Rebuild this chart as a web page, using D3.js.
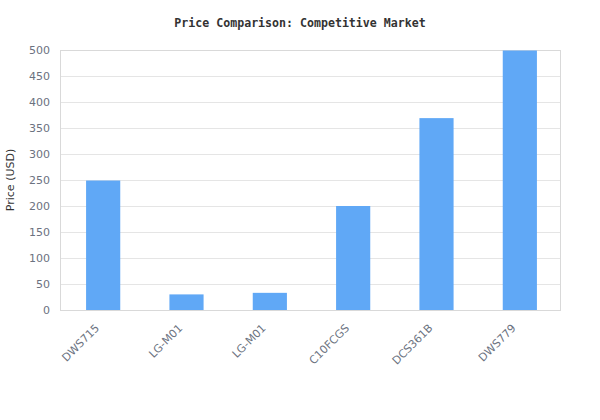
<!DOCTYPE html>
<html>
<head>
<meta charset="utf-8">
<script src="https://cdn.jsdelivr.net/npm/d3@7"></script>
<style>
  body { margin: 0; background: #fff; }
  svg { display: block; }
</style>
</head>
<body>
<svg width="600" height="420"></svg>
<script>
const categories = ['DWS715', 'LG-M01', 'LG-M01', 'C10FCGS', 'DCS361B', 'DWS779'];
const prices = [249, 30, 33, 200, 369, 499];
const yTicks = [0, 50, 100, 150, 200, 250, 300, 350, 400, 450, 500];

const data = categories.map((name, i) => ({ key: i, name, price: prices[i] }));

const svg = d3.select('svg');
const plotLeft = 60, plotRight = 560, plotTop = 50, plotBottom = 310;

const xScale = d3.scaleBand()
  .domain(data.map(d => d.key))
  .range([plotLeft + 1.5, plotRight + 1.5])
  .paddingInner(0.59)
  .paddingOuter(0.295);

const yScale = d3.scaleLinear()
  .domain([0, 500])
  .range([plotBottom, plotTop]);

// grid
svg.append('g')
  .selectAll('line')
  .data(yTicks)
  .enter()
  .append('line')
  .attr('x1', plotLeft)
  .attr('x2', plotRight)
  .attr('y1', d => Math.round(yScale(d)) + 0.5)
  .attr('y2', d => Math.round(yScale(d)) + 0.5)
  .attr('stroke', '#e5e5e5')
  .attr('stroke-width', 1);

// frame
svg.append('rect')
  .attr('x', plotLeft + 0.5)
  .attr('y', plotTop + 0.5)
  .attr('width', plotRight - plotLeft)
  .attr('height', plotBottom - plotTop)
  .attr('fill', 'none')
  .attr('stroke', '#d9d9d9');

// bars
svg.append('g')
  .selectAll('rect')
  .data(data)
  .enter()
  .append('rect')
  .attr('x', d => xScale(d.key))
  .attr('y', d => yScale(d.price))
  .attr('width', xScale.bandwidth())
  .attr('height', d => yScale(0) - yScale(d.price))
  .attr('fill', '#60a8f6');

// y axis labels
const yAxis = svg.append('g')
  .attr('transform', `translate(${plotLeft}, 0)`)
  .call(d3.axisLeft(yScale).tickValues(yTicks).tickSize(0).tickPadding(10));
yAxis.select('.domain').remove();
yAxis.selectAll('text')
  .attr('fill', '#6b7280')
  .style('font-family', 'DejaVu Sans, sans-serif')
  .style('font-size', '11px');

// x axis labels
const xAxis = svg.append('g')
  .attr('transform', `translate(0, ${plotBottom})`)
  .call(d3.axisBottom(xScale).tickSize(0).tickFormat(i => categories[i]));
xAxis.select('.domain').remove();
xAxis.selectAll('text')
  .attr('fill', '#6b7280')
  .style('font-family', 'DejaVu Sans, sans-serif')
  .style('font-size', '11px')
  .attr('text-anchor', 'end')
  .attr('x', 0)
  .attr('y', 0)
  .attr('dy', '0.35em')
  .attr('transform', 'translate(-6, 16) rotate(-45)');

// axis title
svg.append('text')
  .attr('transform', `translate(10, ${(plotTop + plotBottom) / 2}) rotate(-90)`)
  .attr('text-anchor', 'middle')
  .attr('dy', '0.35em')
  .attr('fill', '#333')
  .style('font-family', 'DejaVu Sans, sans-serif')
  .style('font-size', '11px')
  .text('Price (USD)');

// title
svg.append('text')
  .attr('x', 300)
  .attr('y', 27)
  .attr('text-anchor', 'middle')
  .attr('fill', '#333')
  .style('font-family', 'DejaVu Sans Mono, monospace')
  .style('font-size', '11.6px')
  .style('font-weight', 'bold')
  .text('Price Comparison: Competitive Market');
</script>
</body>
</html>
